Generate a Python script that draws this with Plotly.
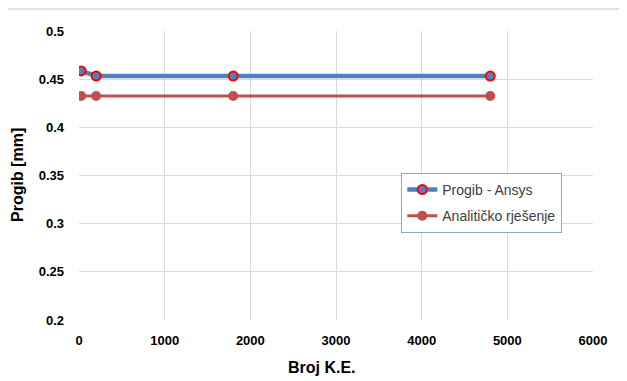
import plotly.graph_objects as go

broj_ke = [25, 200, 1800, 4800]
progib_ansys = [0.4585, 0.4533, 0.4532, 0.4532]
analiticko = [0.4325, 0.4325, 0.4325, 0.4325]

x_ticks = [0, 1000, 2000, 3000, 4000, 5000, 6000]
y_ticks = [0.2, 0.25, 0.3, 0.35, 0.4, 0.45, 0.5]

font = "Liberation Sans"

fig = go.Figure()

fig.add_trace(go.Scatter(
    x=broj_ke, y=progib_ansys,
    mode="lines+markers",
    name="Progib - Ansys",
    legendgroup="a",
    line=dict(color="#4F81BD", width=4.5),
    marker=dict(color="#4F81BD", size=9, line=dict(color="#FF0000", width=2)),
))

fig.add_trace(go.Scatter(
    x=broj_ke, y=analiticko,
    mode="lines+markers",
    name="Analitičko rješenje",
    legendgroup="b",
    line=dict(color="#C0504D", width=3),
    marker=dict(color="#C0504D", size=10),
))

# page body has an 8px margin, so the figure is shrunk by that amount
fig.update_layout(
    width=619, height=373,
    margin=dict(l=71, r=34, t=23, b=61),
    plot_bgcolor="white",
    paper_bgcolor="white",
    font=dict(family=font, size=13, color="#000000"),
    xaxis=dict(
        range=[0, 6000], tickvals=x_ticks, automargin=False,
        showgrid=True, gridcolor="#D9D9D9", zeroline=False,
        showline=False, ticks="", ticklabelstandoff=11,
        tickfont=dict(family=font, size=13, color="#000000", weight="bold"),
    ),
    yaxis=dict(
        range=[0.2, 0.5], tickvals=y_ticks, automargin=False,
        showgrid=True, gridcolor="#D9D9D9", zeroline=False,
        showline=False, ticks="", ticklabelstandoff=14,
        tickfont=dict(family=font, size=13, color="#000000", weight="bold"),
    ),
    legend=dict(
        x=0.627, y=0.509, xanchor="left", yanchor="top",
        bgcolor="white", bordercolor="#8EA9C8", borderwidth=1,
        font=dict(family=font, size=14, color="#404040"),
        traceorder="grouped", tracegroupgap=5,
    ),
    annotations=[
        dict(text="<b>Broj K.E.</b>", xref="paper", yref="paper",
             x=(322 - 79) / 514, y=-(367 - 320) / 289,
             xanchor="center", yanchor="middle", showarrow=False,
             font=dict(family=font, size=16, color="#000000")),
        dict(text="<b>Progib [mm]</b>", xref="paper", yref="paper",
             x=-(79 - 17.5) / 514, y=0.5, textangle=-90,
             xanchor="center", yanchor="middle", showarrow=False,
             font=dict(family=font, size=16, color="#000000")),
    ],
    shapes=[dict(type="line", xref="paper", yref="paper",
                 x0=-0.14, x1=1.053, y0=1.076, y1=1.076,
                 line=dict(color="#D9D9D9", width=1.5))],
)

fig.write_html("out.html")
